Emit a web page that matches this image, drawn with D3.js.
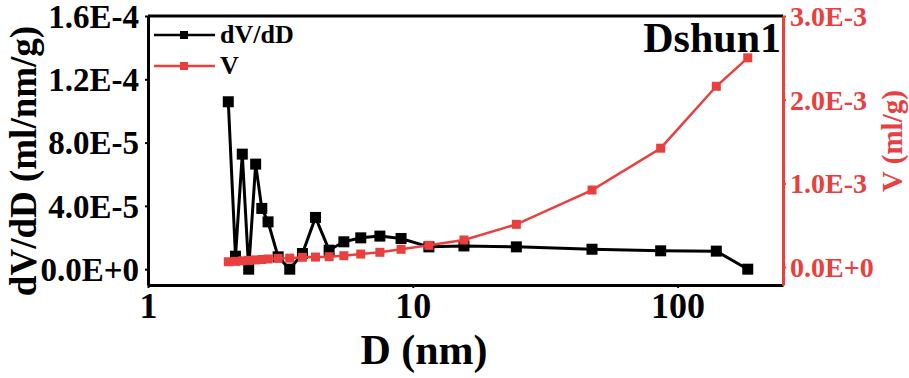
<!DOCTYPE html>
<html><head><meta charset="utf-8">
<script src="https://cdn.jsdelivr.net/npm/d3@7"></script>
<style>body{margin:0;background:#fff;} svg{display:block;}</style>
</head><body>
<svg id="c" width="909" height="378"></svg>
<script>
const diameters = [2.01,2.14,2.27,2.40,2.55,2.69,2.84,3.10,3.43,3.83,4.29,4.83,5.49,6.36,7.51,9.03,11.5,15.6,24.6,47.5,86.3,140,184];
const dVdD = [1.058e-4,8.2e-6,7.27e-5,0,6.64e-5,3.84e-5,2.99e-5,7.8e-6,0,9.9e-6,3.27e-5,1.2e-5,1.73e-5,1.98e-5,2.09e-5,1.94e-5,1.41e-5,1.47e-5,1.41e-5,1.26e-5,1.16e-5,1.14e-5,0];
const volume = [6.3e-5,6.8e-5,7.4e-5,7.9e-5,8.5e-5,9.0e-5,9.6e-5,1.04e-4,1.06e-4,1.16e-4,1.19e-4,1.23e-4,1.35e-4,1.55e-4,1.76e-4,2.12e-4,2.59e-4,3.23e-4,5.1e-4,9.2e-4,1.42e-3,2.16e-3,2.50e-3];
const xTicks = [1,10,100];
const leftTicks = [0,4e-5,8e-5,1.2e-4,1.6e-4];
const rightTicks = [0,1e-3,2e-3,3e-3];
const seriesNames = ["dV/dD","V"];

const RED = "#e8403f";
const FONT = "'Liberation Serif', 'Times New Roman', serif";
const L=148, R=783, T=16, B=285;
const svg = d3.select("#c");
const x = d3.scaleLog().domain([1,250]).range([L,R]);
const yL = d3.scaleLinear().domain([-1.0e-5,1.6e-4]).range([B,T]);
const yR = d3.scaleLinear().domain([-2.15e-4,3e-3]).range([B,T]);
const fmt = v => d3.format(".1e")(v).toUpperCase();

// frame top
svg.append("line").attr("x1",L).attr("x2",R).attr("y1",T).attr("y2",T).attr("stroke","#000").attr("stroke-width",3);

// axes
const ax = svg.append("g").attr("transform",`translate(0,${B})`)
  .call(d3.axisBottom(x).tickValues(xTicks).tickFormat(d3.format("d")).tickSizeInner(3).tickSizeOuter(0).tickPadding(4));
const al = svg.append("g").attr("transform",`translate(${L},0)`)
  .call(d3.axisLeft(yL).tickValues(leftTicks).tickFormat(fmt).tickSizeInner(3).tickSizeOuter(0).tickPadding(6));
const ar = svg.append("g").attr("transform",`translate(${R},0)`)
  .call(d3.axisRight(yR).tickValues(rightTicks).tickFormat(fmt).tickSizeInner(3).tickSizeOuter(0).tickPadding(4));

[ax,al].forEach(g=>{g.select(".domain").attr("stroke","#000").attr("stroke-width",3);
  g.selectAll(".tick line").attr("stroke","#000").attr("stroke-width",2);
  g.selectAll("text").attr("fill","#000").attr("font-family",FONT).attr("font-weight","bold");});
ax.selectAll("text").attr("font-size",36);
al.selectAll("text").attr("font-size",33).attr("dy","0.34em");
ar.select(".domain").attr("stroke",RED).attr("stroke-width",3);
ar.selectAll(".tick line").attr("stroke",RED).attr("stroke-width",2);
ar.selectAll("text").attr("fill",RED).attr("font-family",FONT).attr("font-weight","bold").attr("font-size",28).attr("dy","0.34em");

// axis titles
svg.append("text").attr("x",424).attr("y",364).attr("text-anchor","middle")
  .attr("font-family",FONT).attr("font-weight","bold").attr("font-size",42).text("D (nm)");
svg.append("text").attr("transform","translate(36,161) rotate(-90)").attr("text-anchor","middle")
  .attr("font-family",FONT).attr("font-weight","bold").attr("font-size",37).text("dV/dD (ml/nm/g)");
svg.append("text").attr("transform","translate(902,141) rotate(-90)").attr("text-anchor","middle")
  .attr("font-family",FONT).attr("font-weight","bold").attr("font-size",29).attr("fill",RED).text("V (ml/g)");

// data
const pts = diameters.map((d,i)=>({d, a:dVdD[i], v:volume[i]}));
const lineA = d3.line().x(p=>x(p.d)).y(p=>yL(p.a));
const lineV = d3.line().x(p=>x(p.d)).y(p=>yR(p.v));
svg.append("path").datum(pts).attr("d",lineA).attr("fill","none").attr("stroke","#000").attr("stroke-width",3);
svg.selectAll(".ma").data(pts).enter().append("rect")
  .attr("x",p=>x(p.d)-5.5).attr("y",p=>yL(p.a)-5.5).attr("width",11).attr("height",11).attr("fill","#000");
svg.append("path").datum(pts).attr("d",lineV).attr("fill","none").attr("stroke",RED).attr("stroke-width",2.5);
svg.selectAll(".mv").data(pts).enter().append("rect")
  .attr("x",p=>x(p.d)-4.5).attr("y",p=>yR(p.v)-4.5).attr("width",9).attr("height",9).attr("fill",RED);

// legend
const leg = [{n:seriesNames[0],c:"#000",y:35},{n:seriesNames[1],c:RED,y:66}];
leg.forEach(l=>{
  svg.append("line").attr("x1",154).attr("x2",215).attr("y1",l.y).attr("y2",l.y).attr("stroke",l.c).attr("stroke-width",2.5);
  svg.append("rect").attr("x",180).attr("y",l.y-4).attr("width",8).attr("height",8).attr("fill",l.c);
  svg.append("text").attr("x",220).attr("y",l.y+8).attr("font-family",FONT).attr("font-weight","bold").attr("font-size",26).attr("fill","#000").text(l.n);
});

// sample name
svg.append("text").attr("x",781).attr("y",52).attr("text-anchor","end")
  .attr("font-family",FONT).attr("font-weight","bold").attr("font-size",42).text("Dshun1");
</script>
</body></html>
